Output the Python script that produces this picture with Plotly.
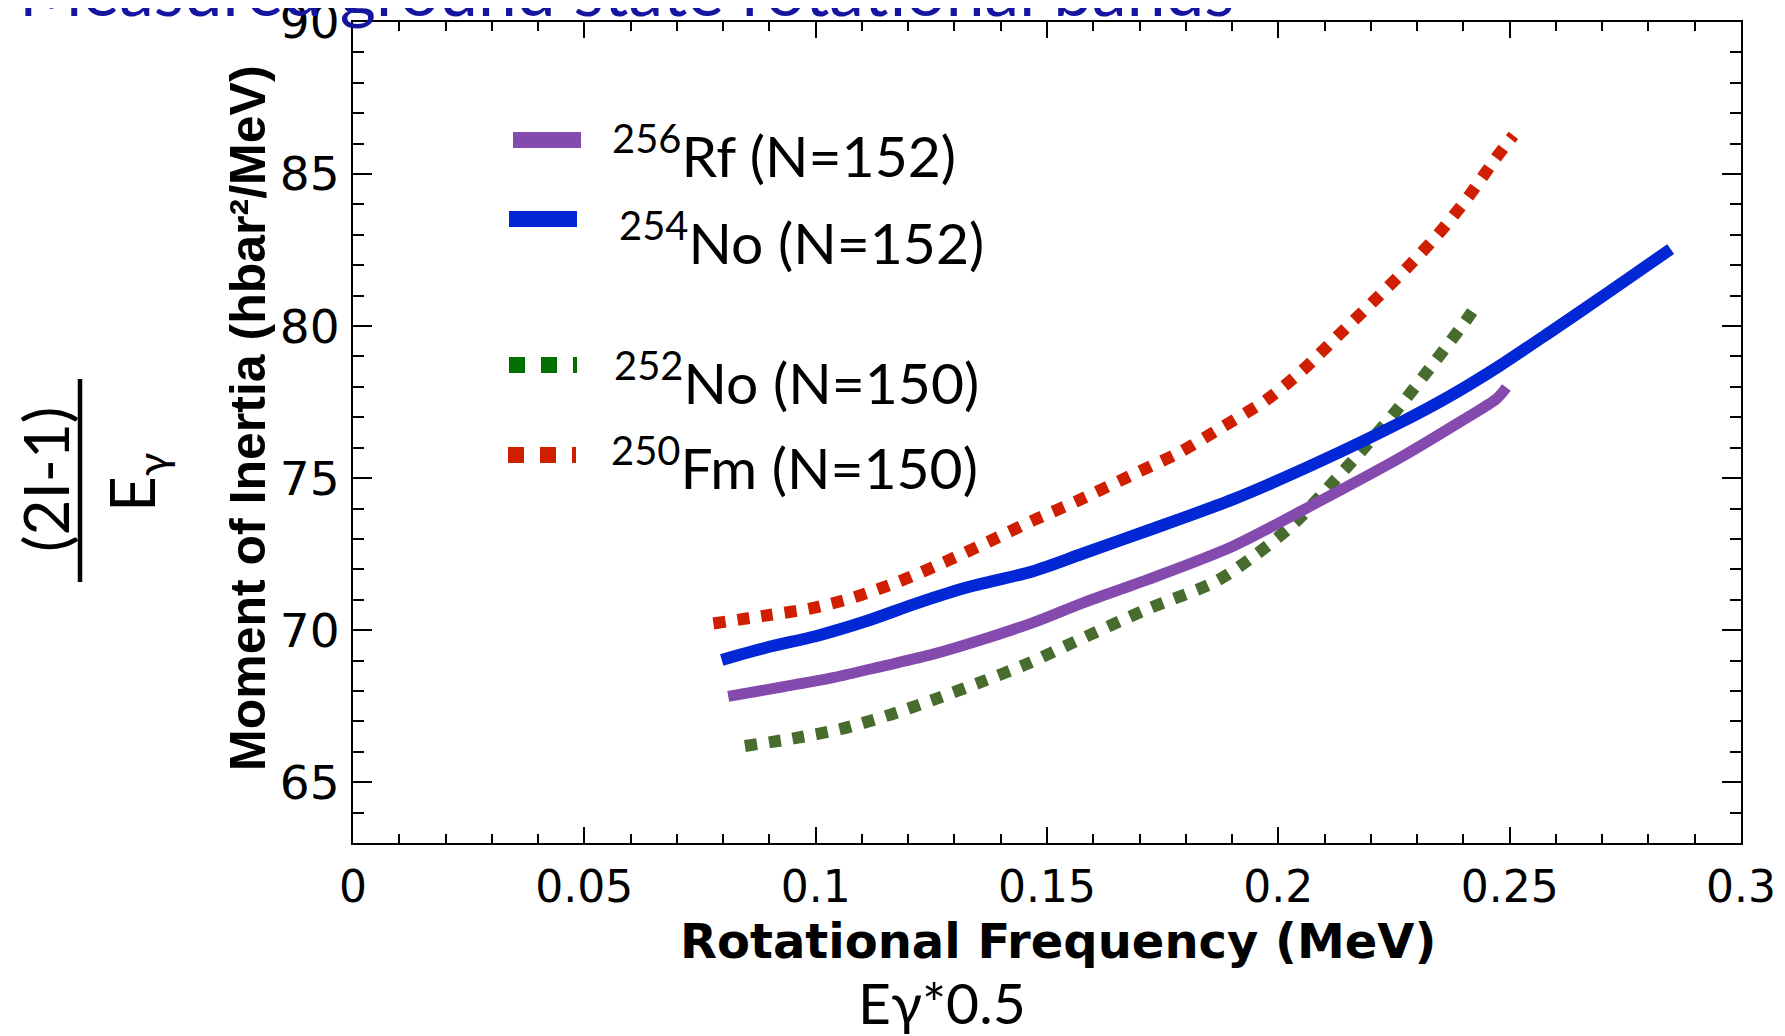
import plotly.graph_objects as go

# ---------------- data ----------------
rf256_x = [0.0811, 0.0930, 0.1038, 0.1146, 0.1254, 0.1362, 0.1470, 0.1578, 0.1719,
           0.1902, 0.2083, 0.2263, 0.2400, 0.2471, 0.2493]
rf256_y = [67.82, 68.14, 68.44, 68.82, 69.21, 69.70, 70.25, 70.90, 71.67,
           72.76, 74.19, 75.67, 76.92, 77.60, 77.98]

no254_x = [0.0797, 0.0894, 0.1002, 0.1110, 0.1218, 0.1326, 0.1470, 0.1578, 0.1715,
           0.1902, 0.2083, 0.2263, 0.2371, 0.2479, 0.2587, 0.2717, 0.2848]
no254_y = [69.02, 69.43, 69.81, 70.30, 70.88, 71.40, 71.94, 72.52, 73.26,
           74.30, 75.50, 76.82, 77.70, 78.70, 79.80, 81.15, 82.53]

no252_x = [0.0847, 0.0952, 0.1052, 0.1153, 0.1254, 0.1355, 0.1455, 0.1556, 0.1715,
           0.1866, 0.1952, 0.2032, 0.2104, 0.2176, 0.2248, 0.2342, 0.2404, 0.2429]
no252_y = [66.19, 66.44, 66.74, 67.18, 67.71, 68.28, 68.88, 69.59, 70.68,
           71.61, 72.49, 73.48, 74.63, 75.83, 77.09, 78.90, 80.15, 80.70]

fm250_x = [0.0779, 0.0887, 0.0988, 0.1081, 0.1182, 0.1283, 0.1377, 0.1470, 0.1564,
           0.1701, 0.1787, 0.1881, 0.1975, 0.2054, 0.2126, 0.2202, 0.2276, 0.2346,
           0.2411, 0.2470, 0.2508]
fm250_y = [70.22, 70.47, 70.71, 71.07, 71.61, 72.27, 72.93, 73.61, 74.24,
           75.23, 75.85, 76.70, 77.58, 78.57, 79.64, 80.76, 81.88, 83.03,
           84.26, 85.52, 86.27]

series_labels = ["<sup>256</sup>Rf (N=152)", "<sup>254</sup>No (N=152)",
                 "<sup>252</sup>No (N=150)", "<sup>250</sup>Fm (N=150)"]

x_tickvals = [0, 0.05, 0.1, 0.15, 0.2, 0.25, 0.3]
x_ticktext = ["0", "0.05", "0.1", "0.15", "0.2", "0.25", "0.3"]
y_tickvals = [65, 70, 75, 80, 85, 90]
y_ticktext = ["65", "70", "75", "80", "85", "90"]

title_text = "Measured ground state rotational bands"
x_title = "Rotational Frequency (MeV)"
y_title = "Moment of Inertia (hbar²/MeV)"
sub_note = "Eγ*0.5"

# ---------------- layout geometry ----------------
# page body has an 8px margin, so positions below are window pixels minus OFF
OFF = 8
FIG_W, FIG_H = 1785 - OFF, 1036 - OFF
L, T = 353 - OFF, 22 - OFF
R = FIG_W - (1741 - OFF)
B = FIG_H - (843 - OFF)
PW = FIG_W - L - R
PH = FIG_H - T - B


def px(xw):
    """window x pixel -> paper x"""
    return (xw - OFF - L) / PW


def py(yw):
    """window y pixel -> paper y"""
    return 1 - (yw - OFF - T) / PH


PURPLE = "#854aae"
BLUE = "#0228d6"
GREEN = "#486b2e"
GREEN_KEY = "#007000"
RED = "#d01f00"

fig = go.Figure()
fig.add_trace(go.Scatter(x=no252_x, y=no252_y, mode="lines", name=series_labels[2],
                         line=dict(color=GREEN, width=12, dash="dot", shape="spline",
                                   smoothing=0.8), showlegend=False))
fig.add_trace(go.Scatter(x=fm250_x, y=fm250_y, mode="lines", name=series_labels[3],
                         line=dict(color=RED, width=12, dash="dot", shape="spline",
                                   smoothing=0.8), showlegend=False))
fig.add_trace(go.Scatter(x=rf256_x, y=rf256_y, mode="lines", name=series_labels[0],
                         line=dict(color=PURPLE, width=11, shape="spline", smoothing=0.8),
                         showlegend=False))
fig.add_trace(go.Scatter(x=no254_x, y=no254_y, mode="lines", name=series_labels[1],
                         line=dict(color=BLUE, width=12, shape="spline", smoothing=0.8),
                         showlegend=False))

fig.update_xaxes(
    range=[0, 0.3], tickvals=x_tickvals, ticktext=x_ticktext,
    showline=True, linecolor="black", linewidth=2, mirror="ticks",
    ticks="inside", ticklen=16, tickwidth=1.5, tickcolor="black",
    minor=dict(dtick=0.01, ticks="inside", ticklen=9, tickwidth=1.5, tickcolor="black"),
    showgrid=False, zeroline=False, ticklabeloverflow="allow",
    tickfont=dict(family="DejaVu Sans", size=44, color="black"), ticklabelstandoff=4,
)
fig.update_yaxes(
    range=[63, 90], tickvals=y_tickvals, ticktext=y_ticktext,
    showline=True, linecolor="black", linewidth=2, mirror="ticks",
    ticks="inside", ticklen=19, tickwidth=1.5, tickcolor="black",
    minor=dict(dtick=1, ticks="inside", ticklen=11, tickwidth=1.5, tickcolor="black"),
    showgrid=False, zeroline=False, ticklabeloverflow="allow",
    tickfont=dict(family="DejaVu Sans", size=47, color="black"), ticklabelstandoff=2,
)

shapes = []
annotations = []

# axis titles
annotations.append(dict(xref="paper", yref="paper", x=px(1058), y=py(941),
                        xanchor="center", yanchor="middle", showarrow=False,
                        text=f"<b>{x_title}</b>",
                        font=dict(family="DejaVu Sans", size=48, color="black")))
annotations.append(dict(xref="paper", yref="paper", x=px(248), y=py(418),
                        xanchor="center", yanchor="middle", showarrow=False,
                        textangle=-90, text=f"<b>{y_title}</b>",
                        font=dict(family="Liberation Sans", size=50, color="black")))

# legend keys (manual, to match the reference's spacing)
key_rows = [
    (140, PURPLE, "solid", 513, 581, 613, 152),
    (219, BLUE, "solid", 509, 577, 620, 238),
    (365, GREEN_KEY, "dot", 509, 577, 615, 379),
    (455, RED, "dot", 508, 576, 612, 464),
]
for (ly, col, dash, x0, x1, tx, ty), lab in zip(key_rows, series_labels):
    shapes.append(dict(type="line", xref="paper", yref="paper",
                       x0=px(x0), x1=px(x1), y0=py(ly), y1=py(ly),
                       line=dict(color=col, width=16, dash=dash)))
    annotations.append(dict(xref="paper", yref="paper", x=px(tx - 3), y=py(ty),
                            xanchor="left", yanchor="middle", showarrow=False,
                            text=lab, font=dict(family="Lato", size=57, color="black")))

# clipped title at the very top
annotations.append(dict(xref="paper", yref="paper", x=px(17), y=py(-11),
                        xanchor="left", yanchor="middle", showarrow=False,
                        text=title_text,
                        font=dict(family="Lato", size=69.5, color="#15159f")))

# (2I-1)/E_gamma fraction on the left
annotations.append(dict(xref="paper", yref="paper", x=px(45), y=py(480),
                        xanchor="center", yanchor="middle", showarrow=False,
                        textangle=-90, text="(2I-1)",
                        font=dict(family="Lato", size=62, color="black")))
annotations.append(dict(xref="paper", yref="paper", x=px(135), y=py(483),
                        xanchor="center", yanchor="middle", showarrow=False,
                        textangle=-90, text="E<sub>γ</sub>",
                        font=dict(family="Lato", size=62, color="black")))
shapes.append(dict(type="line", xref="paper", yref="paper",
                   x0=px(80), x1=px(80), y0=py(379), y1=py(582),
                   line=dict(color="black", width=4.5)))

# E_gamma * 0.5 note
annotations.append(dict(xref="paper", yref="paper", x=px(942), y=py(1002),
                        xanchor="center", yanchor="middle", showarrow=False,
                        text=sub_note,
                        font=dict(family="Lato", size=57, color="black")))

fig.update_layout(
    width=FIG_W, height=FIG_H,
    margin=dict(l=L, r=R, t=T, b=B, autoexpand=False),
    paper_bgcolor="white", plot_bgcolor="white",
    shapes=shapes, annotations=annotations, showlegend=False,
)

fig.write_html("out.html")
